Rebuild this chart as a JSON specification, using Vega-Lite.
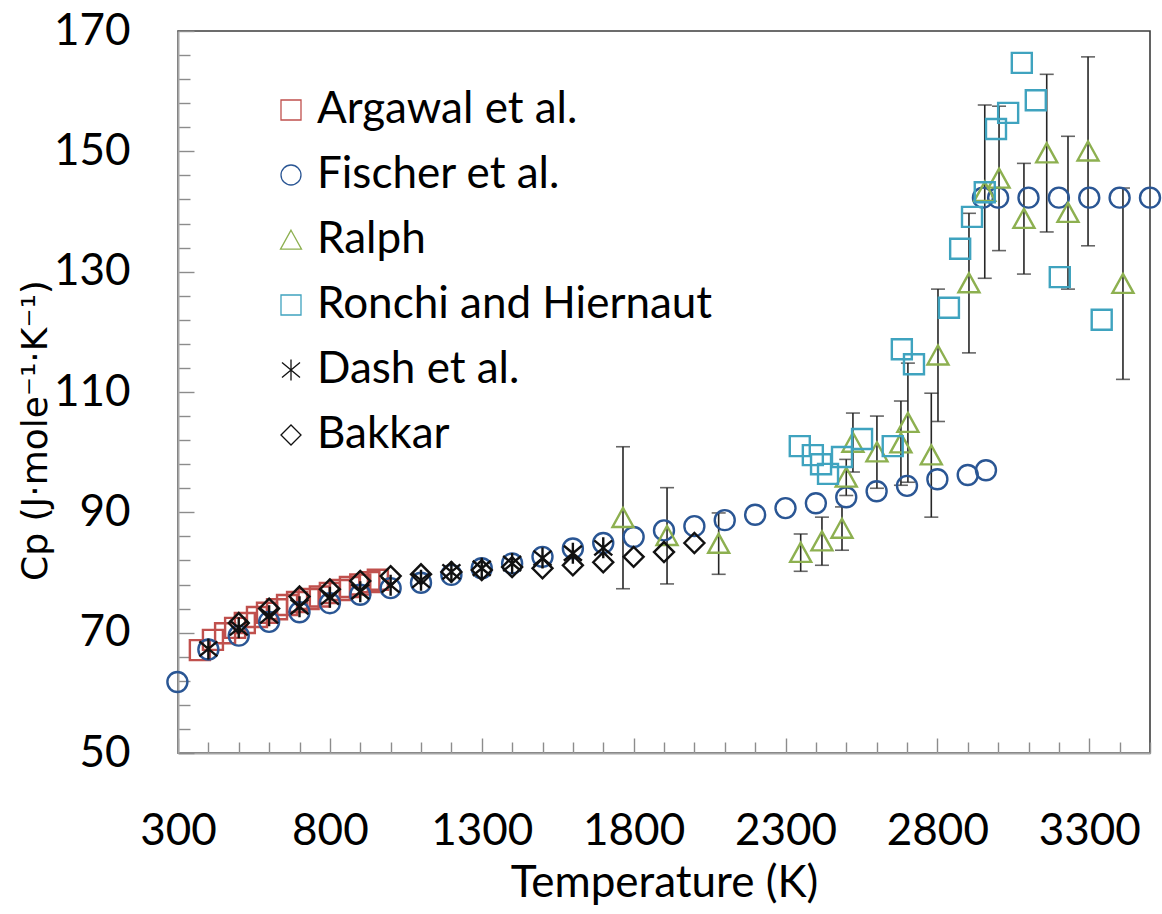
{
  "$schema": "https://vega.github.io/schema/vega-lite/v6.json",
  "autosize": "none",
  "padding": {"left": 178, "top": 31, "right": 12, "bottom": 161},
  "width": 972,
  "height": 722,
  "background": "white",
  "config": {
    "view": {"stroke": "#3c3c3c", "strokeWidth": 1.6},
    "axis": {"grid": false, "labelOverlap": false, "labelFlush": false}
  },
  "datasets": {
    "pts": [
      {"series": "Argawal et al.", "T": 372, "Cp": 67.1},
      {"series": "Argawal et al.", "T": 415, "Cp": 68.8},
      {"series": "Argawal et al.", "T": 455, "Cp": 69.9},
      {"series": "Argawal et al.", "T": 488, "Cp": 70.8},
      {"series": "Argawal et al.", "T": 520, "Cp": 71.6},
      {"series": "Argawal et al.", "T": 560, "Cp": 72.6},
      {"series": "Argawal et al.", "T": 593, "Cp": 73.3},
      {"series": "Argawal et al.", "T": 626, "Cp": 73.9},
      {"series": "Argawal et al.", "T": 659, "Cp": 74.6},
      {"series": "Argawal et al.", "T": 692, "Cp": 75.1},
      {"series": "Argawal et al.", "T": 730, "Cp": 75.6},
      {"series": "Argawal et al.", "T": 767, "Cp": 76.0},
      {"series": "Argawal et al.", "T": 800, "Cp": 76.6},
      {"series": "Argawal et al.", "T": 833, "Cp": 77.1},
      {"series": "Argawal et al.", "T": 866, "Cp": 77.6},
      {"series": "Argawal et al.", "T": 900, "Cp": 78.0},
      {"series": "Argawal et al.", "T": 930, "Cp": 78.4},
      {"series": "Argawal et al.", "T": 958, "Cp": 78.8},
      {"series": "Fischer et al.", "T": 298, "Cp": 61.8},
      {"series": "Fischer et al.", "T": 400, "Cp": 67.2},
      {"series": "Fischer et al.", "T": 500, "Cp": 69.5},
      {"series": "Fischer et al.", "T": 600, "Cp": 71.8},
      {"series": "Fischer et al.", "T": 700, "Cp": 73.4},
      {"series": "Fischer et al.", "T": 800, "Cp": 74.9},
      {"series": "Fischer et al.", "T": 900, "Cp": 76.3},
      {"series": "Fischer et al.", "T": 1000, "Cp": 77.4},
      {"series": "Fischer et al.", "T": 1100, "Cp": 78.3},
      {"series": "Fischer et al.", "T": 1200, "Cp": 79.6},
      {"series": "Fischer et al.", "T": 1300, "Cp": 80.7},
      {"series": "Fischer et al.", "T": 1400, "Cp": 81.5},
      {"series": "Fischer et al.", "T": 1500, "Cp": 82.6},
      {"series": "Fischer et al.", "T": 1600, "Cp": 84.0},
      {"series": "Fischer et al.", "T": 1700, "Cp": 84.9},
      {"series": "Fischer et al.", "T": 1800, "Cp": 85.9},
      {"series": "Fischer et al.", "T": 1900, "Cp": 87.0},
      {"series": "Fischer et al.", "T": 2000, "Cp": 87.7},
      {"series": "Fischer et al.", "T": 2100, "Cp": 88.7},
      {"series": "Fischer et al.", "T": 2200, "Cp": 89.6},
      {"series": "Fischer et al.", "T": 2300, "Cp": 90.7},
      {"series": "Fischer et al.", "T": 2400, "Cp": 91.5},
      {"series": "Fischer et al.", "T": 2500, "Cp": 92.5},
      {"series": "Fischer et al.", "T": 2600, "Cp": 93.5},
      {"series": "Fischer et al.", "T": 2700, "Cp": 94.4},
      {"series": "Fischer et al.", "T": 2800, "Cp": 95.5},
      {"series": "Fischer et al.", "T": 2900, "Cp": 96.2},
      {"series": "Fischer et al.", "T": 2960, "Cp": 97.0},
      {"series": "Fischer et al.", "T": 2950, "Cp": 142.3},
      {"series": "Fischer et al.", "T": 3000, "Cp": 142.3},
      {"series": "Fischer et al.", "T": 3100, "Cp": 142.3},
      {"series": "Fischer et al.", "T": 3200, "Cp": 142.3},
      {"series": "Fischer et al.", "T": 3300, "Cp": 142.3},
      {"series": "Fischer et al.", "T": 3400, "Cp": 142.3},
      {"series": "Fischer et al.", "T": 3500, "Cp": 142.3},
      {"series": "Ralph", "T": 1765, "Cp": 89.1},
      {"series": "Ralph", "T": 1910, "Cp": 86.1},
      {"series": "Ralph", "T": 2080, "Cp": 84.8},
      {"series": "Ralph", "T": 2350, "Cp": 83.3},
      {"series": "Ralph", "T": 2420, "Cp": 85.2},
      {"series": "Ralph", "T": 2486, "Cp": 87.3},
      {"series": "Ralph", "T": 2500, "Cp": 95.8},
      {"series": "Ralph", "T": 2522, "Cp": 101.6},
      {"series": "Ralph", "T": 2601, "Cp": 100.0},
      {"series": "Ralph", "T": 2680, "Cp": 101.5},
      {"series": "Ralph", "T": 2703, "Cp": 104.9},
      {"series": "Ralph", "T": 2780, "Cp": 99.5},
      {"series": "Ralph", "T": 2802, "Cp": 116.1},
      {"series": "Ralph", "T": 2904, "Cp": 128.1},
      {"series": "Ralph", "T": 2956, "Cp": 143.3},
      {"series": "Ralph", "T": 3003, "Cp": 145.5},
      {"series": "Ralph", "T": 3085, "Cp": 138.8},
      {"series": "Ralph", "T": 3160, "Cp": 149.7},
      {"series": "Ralph", "T": 3230, "Cp": 139.8},
      {"series": "Ralph", "T": 3296, "Cp": 150.0},
      {"series": "Ralph", "T": 3411, "Cp": 128.0},
      {"series": "Ronchi and Hiernaut", "T": 2347, "Cp": 101.0},
      {"series": "Ronchi and Hiernaut", "T": 2390, "Cp": 99.5},
      {"series": "Ronchi and Hiernaut", "T": 2417, "Cp": 98.0},
      {"series": "Ronchi and Hiernaut", "T": 2440, "Cp": 96.4},
      {"series": "Ronchi and Hiernaut", "T": 2486, "Cp": 99.2},
      {"series": "Ronchi and Hiernaut", "T": 2552, "Cp": 102.2},
      {"series": "Ronchi and Hiernaut", "T": 2653, "Cp": 101.0},
      {"series": "Ronchi and Hiernaut", "T": 2683, "Cp": 117.1},
      {"series": "Ronchi and Hiernaut", "T": 2723, "Cp": 114.6},
      {"series": "Ronchi and Hiernaut", "T": 2838, "Cp": 124.0},
      {"series": "Ronchi and Hiernaut", "T": 2875, "Cp": 133.8},
      {"series": "Ronchi and Hiernaut", "T": 2914, "Cp": 139.1},
      {"series": "Ronchi and Hiernaut", "T": 2956, "Cp": 143.2},
      {"series": "Ronchi and Hiernaut", "T": 2993, "Cp": 153.7},
      {"series": "Ronchi and Hiernaut", "T": 3033, "Cp": 156.4},
      {"series": "Ronchi and Hiernaut", "T": 3078, "Cp": 164.7},
      {"series": "Ronchi and Hiernaut", "T": 3124, "Cp": 158.5},
      {"series": "Ronchi and Hiernaut", "T": 3203, "Cp": 129.1},
      {"series": "Ronchi and Hiernaut", "T": 3341, "Cp": 122.0},
      {"series": "Dash et al.", "T": 400, "Cp": 67.3},
      {"series": "Dash et al.", "T": 500, "Cp": 70.8},
      {"series": "Dash et al.", "T": 600, "Cp": 72.8},
      {"series": "Dash et al.", "T": 700, "Cp": 74.3},
      {"series": "Dash et al.", "T": 800, "Cp": 75.9},
      {"series": "Dash et al.", "T": 900, "Cp": 76.8},
      {"series": "Dash et al.", "T": 1000, "Cp": 77.9},
      {"series": "Dash et al.", "T": 1100, "Cp": 78.7},
      {"series": "Dash et al.", "T": 1200, "Cp": 80.1},
      {"series": "Dash et al.", "T": 1300, "Cp": 80.7},
      {"series": "Dash et al.", "T": 1400, "Cp": 81.5},
      {"series": "Dash et al.", "T": 1500, "Cp": 82.4},
      {"series": "Dash et al.", "T": 1600, "Cp": 83.2},
      {"series": "Dash et al.", "T": 1700, "Cp": 84.1},
      {"series": "Bakkar", "T": 500, "Cp": 71.6},
      {"series": "Bakkar", "T": 600, "Cp": 74.0},
      {"series": "Bakkar", "T": 700, "Cp": 76.0},
      {"series": "Bakkar", "T": 800, "Cp": 77.2},
      {"series": "Bakkar", "T": 900, "Cp": 78.6},
      {"series": "Bakkar", "T": 1000, "Cp": 79.4},
      {"series": "Bakkar", "T": 1100, "Cp": 79.7},
      {"series": "Bakkar", "T": 1200, "Cp": 80.1},
      {"series": "Bakkar", "T": 1300, "Cp": 80.4},
      {"series": "Bakkar", "T": 1400, "Cp": 80.9},
      {"series": "Bakkar", "T": 1500, "Cp": 80.7},
      {"series": "Bakkar", "T": 1600, "Cp": 81.2},
      {"series": "Bakkar", "T": 1700, "Cp": 81.7},
      {"series": "Bakkar", "T": 1800, "Cp": 82.6},
      {"series": "Bakkar", "T": 1900, "Cp": 83.4},
      {"series": "Bakkar", "T": 2000, "Cp": 84.9}
    ],
    "err": [
      {"T": 1765, "lo": 77.3, "hi": 100.9},
      {"T": 1910, "lo": 78.1, "hi": 94.1},
      {"T": 2080, "lo": 79.7, "hi": 89.9},
      {"T": 2350, "lo": 80.2, "hi": 86.4},
      {"T": 2420, "lo": 81.2, "hi": 89.2},
      {"T": 2486, "lo": 83.7, "hi": 90.9},
      {"T": 2500, "lo": 92.8, "hi": 98.8},
      {"T": 2522, "lo": 96.7, "hi": 106.5},
      {"T": 2601, "lo": 94.0, "hi": 106.0},
      {"T": 2680, "lo": 94.5, "hi": 108.5},
      {"T": 2703, "lo": 95.0, "hi": 114.8},
      {"T": 2780, "lo": 89.2, "hi": 109.8},
      {"T": 2802, "lo": 105.1, "hi": 127.1},
      {"T": 2904, "lo": 116.5, "hi": 139.7},
      {"T": 2956, "lo": 128.9, "hi": 157.7},
      {"T": 3003, "lo": 133.5, "hi": 157.5},
      {"T": 3085, "lo": 129.6, "hi": 148.0},
      {"T": 3160, "lo": 136.6, "hi": 162.8},
      {"T": 3230, "lo": 127.1, "hi": 152.5},
      {"T": 3296, "lo": 134.3, "hi": 165.7},
      {"T": 3411, "lo": 112.1, "hi": 143.9}
    ]
  },
  "encoding": {
    "x": {
      "field": "T",
      "type": "quantitative",
      "scale": {"domain": [300, 3500], "nice": false, "zero": false},
      "axis": {
        "title": "Temperature (K)",
        "values": [300, 400, 500, 600, 700, 800, 900, 1000, 1100, 1200, 1300, 1400, 1500, 1600, 1700, 1800, 1900, 2000, 2100, 2200, 2300, 2400, 2500, 2600, 2700, 2800, 2900, 3000, 3100, 3200, 3300, 3400, 3500],
        "labelExpr": "(datum.value - 300) % 500 == 0 ? '' + datum.value : ''",
        "tickSize": {"expr": "(datum.value - 300) % 500 == 0 ? -15 : -11"},
        "tickColor": "#8c8c8c",
        "tickWidth": 1.4,
        "domainColor": "#a6a6a6",
        "domainWidth": 2,
        "labelFont": "Lato",
        "labelFontSize": 44,
        "labelColor": "#000000",
        "labelPadding": 71,
        "labelOverlap": false,
        "labelFlush": false,
        "labelBaseline": "top",
        "titleFont": "Lato",
        "titleFontSize": 44,
        "titleFontWeight": "normal",
        "titleColor": "#000000",
        "titleX": 486,
        "titleY": 130,
        "titleAnchor": null,
        "titleAlign": "center",
        "titleBaseline": "middle"
      }
    },
    "y": {
      "field": "Cp",
      "type": "quantitative",
      "scale": {"domain": [50, 170], "nice": false, "zero": false},
      "axis": {
        "title": "Cp (J·mole⁻¹·K⁻¹)",
        "values": [50, 54, 58, 62, 66, 70, 74, 78, 82, 86, 90, 94, 98, 102, 106, 110, 114, 118, 122, 126, 130, 134, 138, 142, 146, 150, 154, 158, 162, 166, 170],
        "labelExpr": "(datum.value - 50) % 20 == 0 ? '' + datum.value : ''",
        "tickSize": {"expr": "(datum.value - 50) % 20 == 0 ? -16 : -12"},
        "tickColor": "#8c8c8c",
        "tickWidth": 1.4,
        "domainColor": "#a6a6a6",
        "domainWidth": 2,
        "labelFont": "Lato",
        "labelFontSize": 44,
        "labelColor": "#000000",
        "labelPadding": 64,
        "labelOverlap": false,
        "labelFlush": false,
        "labelAlign": "right",
        "labelBaseline": "middle",
        "titleFont": "DejaVu Sans",
        "titleFontSize": 36,
        "titleFontWeight": "normal",
        "titleColor": "#000000",
        "titleAngle": -90,
        "titleX": -143,
        "titleY": 399,
        "titleAnchor": null,
        "titleAlign": "center",
        "titleBaseline": "middle"
      }
    }
  },
  "layer": [
    {
      "data": {"name": "err"},
      "mark": {
        "type": "errorbar",
        "color": "#262626",
        "thickness": 1.6,
        "ticks": {"size": 14, "color": "#262626"}
      },
      "encoding": {
        "y": {
          "field": "lo",
          "type": "quantitative",
          "scale": {"domain": [50, 170], "nice": false, "zero": false},
          "axis": {
            "title": "Cp (J·mole⁻¹·K⁻¹)",
            "values": [50, 54, 58, 62, 66, 70, 74, 78, 82, 86, 90, 94, 98, 102, 106, 110, 114, 118, 122, 126, 130, 134, 138, 142, 146, 150, 154, 158, 162, 166, 170],
            "labelExpr": "(datum.value - 50) % 20 == 0 ? '' + datum.value : ''",
            "tickSize": {"expr": "(datum.value - 50) % 20 == 0 ? -16 : -12"},
            "tickColor": "#8c8c8c",
            "tickWidth": 1.4,
            "domainColor": "#a6a6a6",
            "domainWidth": 2,
            "labelFont": "Lato",
            "labelFontSize": 44,
            "labelColor": "#000000",
            "labelPadding": 64,
            "labelOverlap": false,
            "labelFlush": false,
            "labelAlign": "right",
            "labelBaseline": "middle",
            "titleFont": "DejaVu Sans",
            "titleFontSize": 36,
            "titleFontWeight": "normal",
            "titleColor": "#000000",
            "titleAngle": -90,
            "titleX": -143,
            "titleY": 399,
            "titleAnchor": null,
            "titleAlign": "center",
            "titleBaseline": "middle"
          }
        },
        "y2": {"field": "hi"}
      }
    },
    {
      "data": {"name": "pts"},
      "mark": {"type": "point", "filled": false, "strokeWidth": 2.4, "size": 400, "opacity": 1},
      "encoding": {
        "color": {
          "field": "series",
          "type": "nominal",
          "scale": {
            "domain": ["Argawal et al.", "Fischer et al.", "Ralph", "Ronchi and Hiernaut", "Dash et al.", "Bakkar"],
            "range": ["#c0504d", "#2a5694", "#8db050", "#3fa3bf", "#111111", "#111111"]
          },
          "legend": {
            "orient": "none",
            "legendX": 91,
            "legendY": 57,
            "title": null,
            "padding": 0,
            "labelFont": "Lato",
            "labelFontSize": 44,
            "labelColor": "#000000",
            "labelOffset": 4,
            "labelLimit": 600,
            "rowPadding": 21,
            "symbolSize": 400,
            "symbolStrokeWidth": 1.3,
            "symbolFillColor": "transparent"
          }
        },
        "shape": {
          "field": "series",
          "type": "nominal",
          "scale": {
            "domain": ["Argawal et al.", "Fischer et al.", "Ralph", "Ronchi and Hiernaut", "Dash et al.", "Bakkar"],
            "range": ["square", "circle", "M0,-0.98L1.05,0.92L-1.05,0.92Z", "square", "M-0.9,-0.75L0.9,0.75M-0.9,0.75L0.9,-0.75M0,-1.05L0,1.05", "diamond"]
          }
        }
      }
    }
  ]
}
